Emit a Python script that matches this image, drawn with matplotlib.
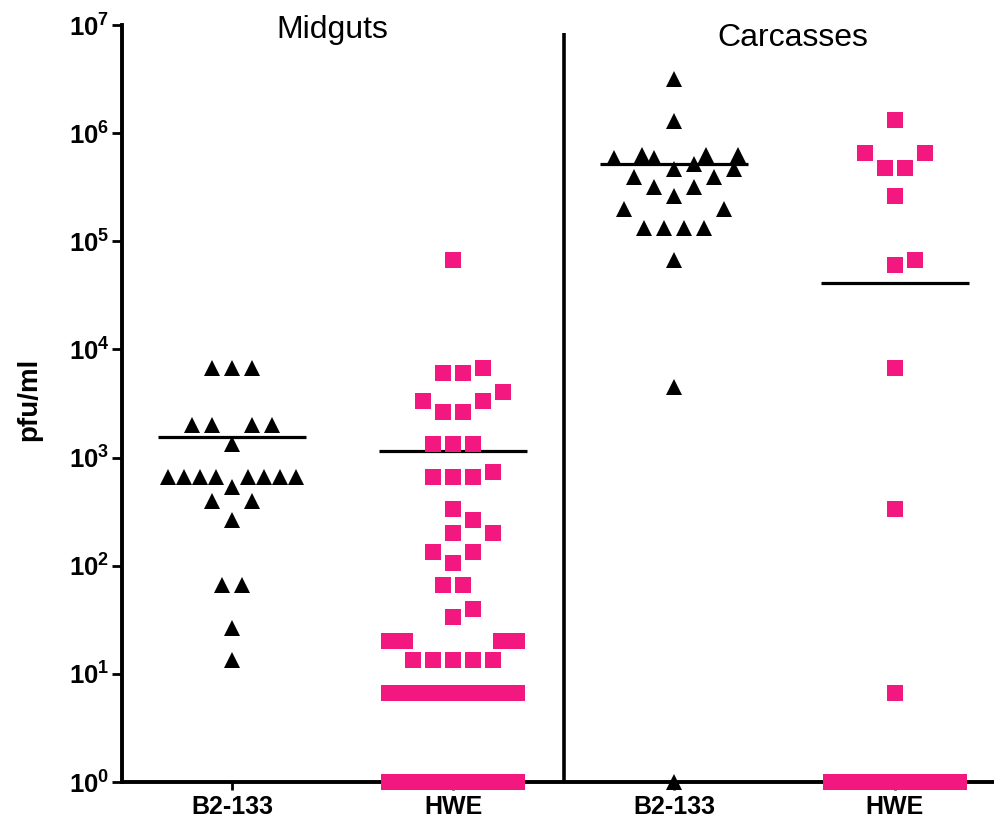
import numpy as np
import matplotlib
matplotlib.use("Agg")
import matplotlib.pyplot as plt

plt.rcParams['font.family'] = ['Liberation Sans', 'DejaVu Sans']
plt.rcParams['mathtext.fontset'] = 'custom'
plt.rcParams['mathtext.rm'] = 'Liberation Sans:bold'
plt.rcParams['mathtext.bf'] = 'Liberation Sans:bold'

# Data (pfu/ml). 1 = nothing detected (drawn on the axis floor)
group_labels = ['B2-133', 'HWE', 'B2-133', 'HWE']
panel_names = ['Midguts', 'Carcasses']

midgut_b2 = [6667, 6667, 6667, 2000, 2000, 2000, 2000, 1333,
             667, 667, 667, 667, 667, 667, 667, 667, 533, 400, 400, 267,
             66.7, 66.7, 26.7, 13.3]
midgut_hwe = [66667, 6667, 6000, 6000, 4000, 3333, 3333, 2667, 2667,
              1333, 1333, 1333, 733, 667, 667, 667, 333, 267, 200, 200,
              133, 133, 107, 66.7, 66.7, 40, 33.3, 20, 20, 20, 20,
              13.3, 13.3, 13.3, 13.3, 13.3,
              6.67, 6.67, 6.67, 6.67, 6.67, 6.67, 6.67, 6.67, 6.67,
              1, 1, 1, 1, 1, 1, 1, 1, 1]
carcass_b2 = [3.2e6, 1.3e6, 6.3e5, 6.3e5, 6.3e5, 5.9e5, 5.9e5, 5.2e5,
              4.7e5, 4.7e5, 3.9e5, 3.9e5, 3.2e5, 3.2e5, 2.6e5, 2.0e5, 2.0e5,
              1.33e5, 1.33e5, 1.33e5, 1.33e5, 6.67e4, 4500, 1]
carcass_hwe = [1.33e6, 6.6e5, 6.6e5, 4.8e5, 4.8e5, 2.6e5, 6.67e4, 6.0e4,
               6667, 333, 6.67, 1, 1, 1, 1, 1, 1, 1, 1, 1, 1]

# horizontal lines (group means) as drawn in the figure
group_means = [1550, 1150, 5.2e5, 4.1e4]

black = '#000000'
pink = '#F21880'

fig = plt.figure(figsize=(9.94, 8.18), dpi=100)
ax = fig.add_axes([122 / 994, 1 - 782 / 818, 872 / 994, 757 / 818])
ax.set_yscale('log')
ax.set_ylim(1, 1e7)
ax.set_xlim(0.502, 4.448)


def swarm_offsets(y_px, step=20.0, dy_min=20.0, dx_min=16.0, cap=64.0):
    # simple column scatter: spread equal values sideways, avoid overlaps
    off = np.zeros(len(y_px))
    placed = []

    def free(x, y):
        for px, py in placed:
            if abs(px - x) < dx_min and abs(py - y) < dy_min:
                return False
        return True

    for v in np.unique(y_px):
        idx = np.where(y_px == v)[0]
        k = len(idx)
        xs = [(i - (k - 1) / 2) * step for i in range(k)]
        if not all(free(x, v) for x in xs):
            xs = []
            cand = [0.0]
            for j in range(1, 40):
                cand += [j * step / 2, -j * step / 2]
            for c in cand:
                if len(xs) == k:
                    break
                if free(c, v) and all(abs(c - x) >= dx_min for x in xs):
                    xs.append(c)
        xs = np.array(xs, dtype=float)
        if np.abs(xs).max() > cap:
            xs = xs * cap / np.abs(xs).max()
        for i, x in zip(idx, xs):
            off[i] = x
            placed.append((x, v))
    return off


px_per_unit = ax.transData.transform((2, 1))[0] - ax.transData.transform((1, 1))[0]

series = [(midgut_b2, '^', black, 11),
          (midgut_hwe, 's', pink, 11.4),
          (carcass_b2, '^', black, 11),
          (carcass_hwe, 's', pink, 11.4)]

for i, (vals, mk, col, ms) in enumerate(series):
    pos = i + 1
    vals = np.array(vals, dtype=float)
    pts = ax.transData.transform(np.column_stack([np.full(len(vals), pos), vals]))
    y_px = np.round(pts[:, 1], 3)
    xs = pos + swarm_offsets(y_px) / px_per_unit
    ax.plot(xs, vals, linestyle='none', marker=mk, color=col, markersize=ms,
            markeredgewidth=0, clip_on=False, zorder=5)
    ax.hlines(group_means[i], pos - 0.335, pos + 0.335, color='black',
              linewidth=2.3, zorder=3)

# divider between the two tissues
ax.vlines(2.5, 1, 10 ** 6.93, color='black', linewidth=2.6, clip_on=False, zorder=2)

for s in ['top', 'right']:
    ax.spines[s].set_visible(False)
for s in ['left', 'bottom']:
    ax.spines[s].set_linewidth(2.8)

ax.set_yticks([10 ** k for k in range(8)])
ax.set_yticklabels([r'$\mathbf{10^{%d}}$' % k for k in range(8)])
ax.minorticks_off()
ax.tick_params(axis='y', direction='out', length=7, width=2, labelsize=18.5, pad=2)
ax.set_xticks([1, 2, 3, 4])
ax.set_xticklabels(group_labels, fontweight='bold')
ax.tick_params(axis='x', direction='out', length=6, width=2, labelsize=18, pad=3.5)

fig.text(29 / 994, 1 - 399 / 818, 'pfu/ml', rotation=90, fontsize=20,
         fontweight='bold', ha='center', va='center')
fig.text(332 / 994, 1 - 38 / 818, panel_names[0], fontsize=23, ha='center', va='baseline')
fig.text(793 / 994, 1 - 46 / 818, panel_names[1], fontsize=23, ha='center', va='baseline')

fig.savefig('out.png', dpi=100)
